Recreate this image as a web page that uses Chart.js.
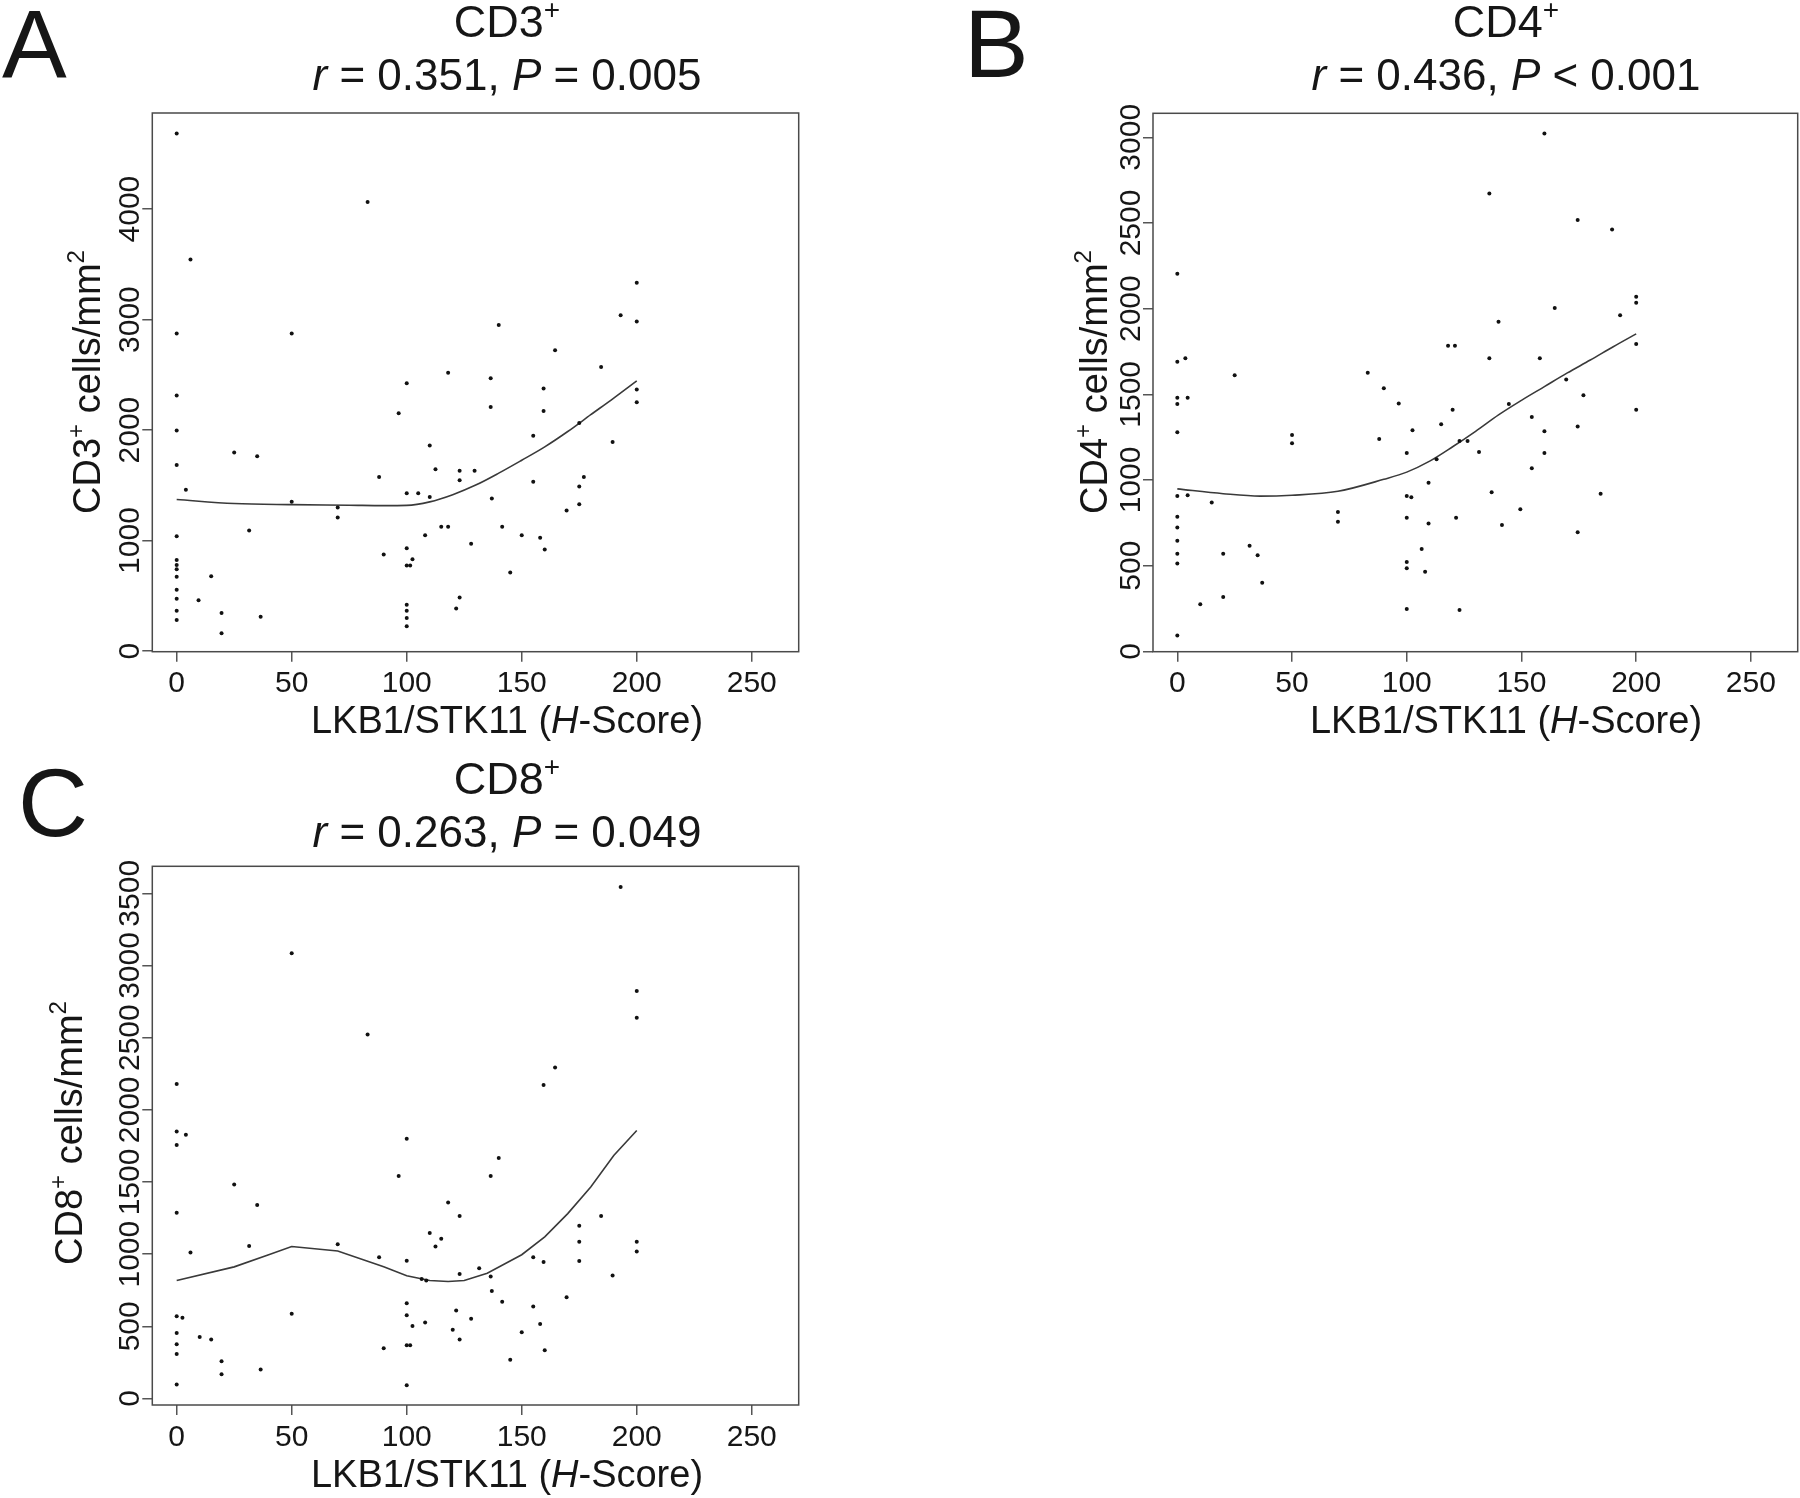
<!DOCTYPE html>
<html>
<head>
<meta charset="utf-8">
<script src="https://cdn.jsdelivr.net/npm/chart.js@4.4.1/dist/chart.umd.min.js"></script>
<style>
  html, body { margin: 0; padding: 0; background: #fff; }
  #wrap { position: relative; width: 1800px; height: 1498px; }
  canvas { position: absolute; }
</style>
</head>
<body>
<div id="wrap">
  <canvas id="chartA" style="left:0px;top:0px" width="900" height="760"></canvas>
  <canvas id="chartB" style="left:900px;top:0px" width="900" height="760"></canvas>
  <canvas id="chartC" style="left:0px;top:750px" width="900" height="748"></canvas>
</div>
<script>
// ---- data ----
const xTicks = [0, 50, 100, 150, 200, 250];
const cd3Ticks = [0, 1000, 2000, 3000, 4000];
const cd4Ticks = [0, 500, 1000, 1500, 2000, 2500, 3000];
const cd8Ticks = [0, 500, 1000, 1500, 2000, 2500, 3000, 3500];

// CD3+ (panel A)
const cd3X = [0, 0, 0, 0, 0, 0, 0, 0, 0, 0, 0, 0, 0, 0,
  6, 4, 9.5, 15, 19.5, 19.5, 25, 31.5, 35, 36.5, 50, 50, 70, 70, 83, 88, 90, 96.5,
  100, 100, 100, 100, 101.5, 102.5, 100, 100, 100, 100, 105, 108, 110, 110, 112.5, 115, 118, 118,
  121.5, 123, 123, 123, 128, 129.5, 136.5, 136.5, 137, 140, 141.5, 145, 150, 155, 155, 158,
  159.5, 159.5, 160, 164.5, 169.5, 175, 175, 175, 177, 184.5, 189.5, 193, 200, 200, 200, 200];
const cd3Y = [4684, 2874, 2312, 1996, 1684, 1039, 824, 778, 740, 673, 555, 474, 365, 281,
  3545, 1459, 460, 678, 345, 160, 1797, 1091, 1762, 310, 2874, 1351, 1299, 1208, 4065, 1576, 874, 2152,
  2424, 1429, 931, 775, 775, 831, 420, 364, 299, 225, 1429, 1048, 1394, 1861, 1645, 1126, 1126, 2519,
  385, 485, 1632, 1545, 970, 1632, 2468, 2208, 1381, 2952, 1126, 710, 1048, 1948, 1532, 1026,
  2377, 2173, 918, 2723, 1273, 2065, 1489, 1329, 1576, 2571, 1892, 3039, 3333, 2983, 2368, 2251];
const cd3FitX = [0, 25, 50, 75, 90, 100, 110, 120, 130, 140, 150, 160, 170, 180, 190, 200];
const cd3FitY = [1372, 1335, 1325, 1320, 1316, 1318, 1350, 1415, 1502, 1610, 1727, 1848, 1987, 2139, 2290, 2446];

// CD4+ (panel B)
const cd4X = [0, 0, 0, 0, 0, 0, 0, 0, 0, 0, 0, 0,
  3.5, 4.5, 4.5, 10, 15, 20, 20, 25, 31.5, 35, 37, 50, 50, 70, 70, 83, 88, 90, 96.5,
  100, 100, 100, 100, 100, 100, 102, 102.5, 106.5, 108, 109.5, 109.5, 113, 115, 118, 121, 120,
  121.5, 123, 123, 126.5, 131.5, 136, 136, 137, 140, 141.5, 144.5, 149.5, 154.5, 154.5, 158,
  160, 160, 160, 164.5, 169.5, 174.5, 174.5, 174.5, 177, 184.5, 189.5, 193, 200, 200, 200, 200];
const cd4Y = [2204, 1690, 1480, 1444, 1278, 906, 785, 723, 645, 569, 513, 93,
  1710, 1480, 911, 275, 869, 317, 569, 1612, 617, 561, 401, 1262, 1214, 813, 757, 1626, 1239, 1536, 1447,
  1158, 906, 779, 521, 485, 247, 900, 1290, 597, 465, 984, 746, 1121, 1326, 1783, 1783, 1410,
  779, 1228, 241, 1228, 1163, 2672, 1710, 928, 1923, 737, 1444, 830, 1368, 1068, 1710,
  3022, 1284, 1158, 2004, 1587, 2517, 1312, 695, 1494, 920, 2462, 1962, 2069, 2035, 1794, 1410];
const cd4FitX = [0, 20, 36, 50, 70, 90, 100, 110, 120, 130, 140, 150, 160, 170, 180, 190, 200];
const cd4FitY = [948, 920, 906, 911, 934, 1004, 1046, 1110, 1194, 1284, 1380, 1465, 1545, 1625, 1700, 1778, 1853];

// CD8+ (panel C)
const cd8X = [0, 0, 0, 0, 0, 0, 0, 0, 0,
  4, 2.5, 6, 10, 15, 19.5, 19.5, 25, 31.5, 35, 36.5, 50, 50, 70, 83, 88, 90, 96.5,
  100, 100, 100, 100, 100, 100, 101.5, 102.5, 106.5, 108, 108.5, 110, 112.5, 115, 118, 120, 121.5,
  123, 123, 123, 128, 131.5, 136.5, 136.5, 137, 140, 141.5, 145, 150, 155, 155, 158, 159.5, 159.5,
  160, 164.5, 169.5, 175, 175, 175, 184.5, 189.5, 193, 200, 200, 200, 200];
const cd8Y = [2179, 1850, 1757, 1287, 570, 453, 375, 308, 97,
  1827, 560, 1012, 426, 409, 258, 168, 1482, 1056, 1341, 201, 3084, 587, 1069, 2521, 979, 349, 1542,
  1800, 955, 660, 577, 369, 91, 369, 503, 828, 526, 818, 1147, 1053, 1106, 1358, 476, 610,
  1264, 862, 409, 553, 902, 1542, 845, 744, 1666, 670, 268, 459, 979, 637, 516, 945, 2172,
  335, 2293, 701, 1197, 1086, 952, 1264, 852, 3543, 2823, 2638, 1086, 1019];
const cd8FitX = [0, 25, 40, 50, 70, 90, 100, 110, 118, 125, 135, 150, 160, 170, 180, 190, 200];
const cd8FitY = [818, 912, 996, 1053, 1022, 912, 851, 818, 811, 818, 868, 996, 1120, 1281, 1465, 1683, 1857];

// ---- drawing ----
const FONT = '"Liberation Sans", Arial, Helvetica, sans-serif';
const INK = '#161616';

function fontFor(run, size) {
  const s = run.sup ? Math.round(size * 0.62) : size;
  return (run.it ? 'italic ' : '') + s + 'px ' + FONT;
}

function drawRuns(ctx, runs, x, y, size, align) {
  let w = 0;
  runs.forEach(r => { ctx.font = fontFor(r, size); w += ctx.measureText(r.t).width; });
  let cx = align === 'center' ? x - w / 2 : x;
  runs.forEach(r => {
    ctx.font = fontFor(r, size);
    ctx.fillText(r.t, cx, r.sup ? y - size * 0.41 : y);
    cx += ctx.measureText(r.t).width;
  });
}

const decorPlugin = {
  id: 'decor',
  afterDraw(chart, args, o) {
    const ctx = chart.ctx;
    const a = chart.chartArea;
    const dx = o.offX, dy = o.offY;
    ctx.save();
    ctx.strokeStyle = '#4a4a4a';
    ctx.lineWidth = 1.5;
    ctx.strokeRect(a.left, a.top, a.right - a.left, a.bottom - a.top);
    ctx.fillStyle = INK;
    ctx.textBaseline = 'alphabetic';
    ctx.textAlign = 'left';
    ctx.font = '97px ' + FONT;
    ctx.fillText(o.letter, o.letterX - dx, o.letterY - dy);
    drawRuns(ctx, o.title1, o.titleX - dx, o.title1Y - dy, 45, 'center');
    drawRuns(ctx, o.title2, o.titleX - dx, o.title2Y - dy, 44, 'center');
    drawRuns(ctx, xTitle, o.titleX - dx, o.xTitleY - dy, 38, 'center');
    ctx.translate(o.yTitleX - dx, o.yTitleY - dy);
    ctx.rotate(-Math.PI / 2);
    drawRuns(ctx, o.yTitle, 0, 0, 38, 'center');
    ctx.restore();
  }
};

const xTitle = [{ t: 'LKB1/STK11 (' }, { t: 'H', it: true }, { t: '-Score)' }];

function tickGrid() {
  return { display: true, drawOnChartArea: false, drawTicks: true, tickLength: 10, color: '#555', lineWidth: 1.5 };
}

function makeChart(id, xs, ys, fitX, fitY, yTicks, yMin, yMax, area, canvasH, smooth, decor) {
  const pts = xs.map((x, i) => ({ x: x, y: ys[i] }));
  const fit = fitX.map((x, i) => ({ x: x, y: fitY[i] }));
  return new Chart(document.getElementById(id), {
    type: 'scatter',
    data: {
      datasets: [
        { data: pts, pointRadius: 2, pointHoverRadius: 2, backgroundColor: '#111', borderWidth: 0 },
        { data: fit, showLine: true, pointRadius: 0, borderColor: '#3a3a3a', borderWidth: 1.6,
          tension: smooth ? 0.4 : 0, cubicInterpolationMode: smooth ? 'monotone' : 'default', fill: false }
      ]
    },
    options: {
      responsive: false,
      animation: false,
      devicePixelRatio: 1,
      layout: { padding: { left: 0, top: area.top, right: 900 - area.right, bottom: 0 } },
      plugins: { legend: { display: false }, tooltip: { enabled: false }, decor: decor },
      scales: {
        x: {
          type: 'linear', min: -10.6, max: 270.4,
          afterBuildTicks: s => { s.ticks = xTicks.map(v => ({ value: v })); },
          afterFit: s => { s.height = canvasH - area.bottom; },
          grid: tickGrid(),
          border: { display: false },
          ticks: { font: { size: 30, family: FONT }, color: INK, padding: 4.5, autoSkip: false,
            minRotation: 0, maxRotation: 0, callback: v => String(v) }
        },
        y: {
          type: 'linear', min: yMin, max: yMax,
          afterBuildTicks: s => { s.ticks = yTicks.map(v => ({ value: v })); },
          afterFit: s => { s.width = area.left; },
          grid: tickGrid(),
          border: { display: false },
          ticks: { font: { size: 30, family: FONT }, color: INK, padding: -22, autoSkip: false,
            minRotation: 90, maxRotation: 90, crossAlign: 'center', callback: v => String(v) }
        }
      }
    },
    plugins: [decorPlugin]
  });
}

makeChart('chartA', cd3X, cd3Y, cd3FitX, cd3FitY, cd3Ticks, -6, 4870,
  { left: 152.3, top: 113, right: 798.7, bottom: 651.7 }, 760, true,
  { offX: 0, offY: 0, letter: 'A', letterX: 2, letterY: 77,
    titleX: 507, title1Y: 37, title2Y: 90,
    title1: [{ t: 'CD3' }, { t: '+', sup: true }],
    title2: [{ t: 'r', it: true }, { t: ' = 0.351, ' }, { t: 'P', it: true }, { t: ' = 0.005' }],
    xTitleY: 733, yTitleX: 100, yTitleY: 382,
    yTitle: [{ t: 'CD3' }, { t: '+', sup: true }, { t: ' cells/mm' }, { t: '2', sup: true }] });

makeChart('chartB', cd4X, cd4Y, cd4FitX, cd4FitY, cd4Ticks, -2, 3140,
  { left: 253, top: 113.3, right: 897.7, bottom: 651.7 }, 760, true,
  { offX: 900, offY: 0, letter: 'B', letterX: 964, letterY: 77,
    titleX: 1506, title1Y: 37, title2Y: 90,
    title1: [{ t: 'CD4' }, { t: '+', sup: true }],
    title2: [{ t: 'r', it: true }, { t: ' = 0.436, ' }, { t: 'P', it: true }, { t: ' < 0.001' }],
    xTitleY: 733, yTitleX: 1107, yTitleY: 382,
    yTitle: [{ t: 'CD4' }, { t: '+', sup: true }, { t: ' cells/mm' }, { t: '2', sup: true }] });

makeChart('chartC', cd8X, cd8Y, cd8FitX, cd8FitY, cd8Ticks, -45, 3687,
  { left: 152.3, top: 116.3, right: 798.7, bottom: 655 }, 748, false,
  { offX: 0, offY: 750, letter: 'C', letterX: 18, letterY: 836,
    titleX: 507, title1Y: 794, title2Y: 847,
    title1: [{ t: 'CD8' }, { t: '+', sup: true }],
    title2: [{ t: 'r', it: true }, { t: ' = 0.263, ' }, { t: 'P', it: true }, { t: ' = 0.049' }],
    xTitleY: 1487, yTitleX: 82, yTitleY: 1133,
    yTitle: [{ t: 'CD8' }, { t: '+', sup: true }, { t: ' cells/mm' }, { t: '2', sup: true }] });
</script>
</body>
</html>
